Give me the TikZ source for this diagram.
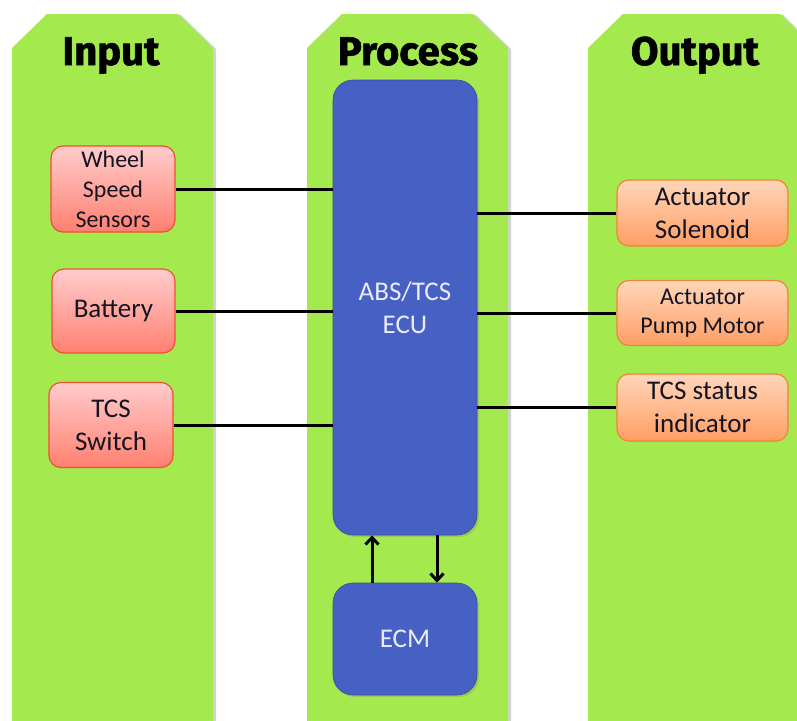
\documentclass[tikz,border=0pt]{standalone}
\usepackage{fontspec}
\setmainfont{Carlito}
\newfontfamily\headfont{Fira Sans}[BoldFeatures={FakeBold=1.5}]
\usetikzlibrary{arrows.meta,shadows}
\definecolor{colgreen}{RGB}{164,234,78}
\definecolor{ecublue}{RGB}{71,96,196}
\definecolor{redtop}{RGB}{255,204,204}
\definecolor{redbot}{RGB}{255,128,112}
\definecolor{redline}{RGB}{240,80,50}
\definecolor{orgtop}{RGB}{255,214,186}
\definecolor{orgbot}{RGB}{255,158,100}
\definecolor{orgline}{RGB}{245,130,50}
\definecolor{txtdark}{RGB}{20,20,35}
\tikzset{
  column/.style={fill=colgreen, drop shadow={shadow xshift=3pt, shadow yshift=-1pt, opacity=0.35}},
  head/.style={font=\headfont\bfseries\fontsize{40}{42}\selectfont, text=black, anchor=base, inner sep=0pt},
  inbox/.style={rectangle, rounded corners=12pt, draw=redline, line width=1.2pt, top color=redtop, bottom color=redbot, text=txtdark, align=center, inner sep=0pt},
  outbox/.style={rectangle, rounded corners=12pt, draw=orgline, line width=1.2pt, top color=orgtop, bottom color=orgbot, text=txtdark, align=center, inner sep=0pt},
  bluebox/.style={rectangle, rounded corners=20pt, fill=ecublue, draw=ecublue!80!black, line width=0.6pt, text=white!92!blue, align=center, inner sep=0pt, drop shadow={shadow xshift=2pt, shadow yshift=-2pt, opacity=0.3}},
  conn/.style={line width=3pt, draw=black},
  arr/.style={line width=3pt, draw=black, -{Straight Barb[length=7pt,width=13pt]}},
}
\begin{document}
\begin{tikzpicture}[x=1pt,y=-1pt]
\useasboundingbox (0,0) rectangle (797,720);
\fill[white] (0,0) rectangle (797,720);
\begin{scope}
\clip (0,0) rectangle (797,720);
% columns
\path[column] (12,740) -- (12,48) -- (47,14) -- (178,14) -- (213,48) -- (213,740) -- cycle;
\path[column] (307,740) -- (307,48) -- (342,14) -- (473,14) -- (508,48) -- (508,740) -- cycle;
\path[column] (588,740) -- (588,48) -- (623,14) -- (780,14) -- (815,48) -- (815,740) -- cycle;
\end{scope}
% headers
\node[head] (hin) at (111,65) {Input};
\node[head] (hpro) at (408,65) {Process};
\node[head] (hout) at (695,65) {Output};
% process boxes
\node[bluebox, minimum width=144pt, minimum height=455pt, font=\fontsize{27}{33}\selectfont] (ecu) at (405,307.5) {ABS/TCS\\ECU};
\node[bluebox, minimum width=144pt, minimum height=112pt, font=\fontsize{27}{33}\selectfont] (ecm) at (405,639) {ECM};
% input boxes
\node[inbox, minimum width=124pt, minimum height=86pt, font=\fontsize{24}{30}\selectfont] (wss) at (113,189) {Wheel\\Speed\\Sensors};
\node[inbox, minimum width=123pt, minimum height=84pt, font=\fontsize{27}{33}\selectfont] (bat) at (113.5,311) {Battery};
\node[inbox, minimum width=124pt, minimum height=85pt, font=\fontsize{27}{33}\selectfont] (tsw) at (111,425) {TCS\\Switch};
% output boxes
\node[outbox, minimum width=171pt, minimum height=66pt, font=\fontsize{27}{33}\selectfont] (sol) at (702.5,213) {Actuator\\Solenoid};
\node[outbox, minimum width=171pt, minimum height=65pt, font=\fontsize{24}{29}\selectfont] (pump) at (702.5,313) {Actuator\\Pump Motor};
\node[outbox, minimum width=171pt, minimum height=67pt, font=\fontsize{27}{33}\selectfont] (stat) at (702.5,407.5) {TCS status\\indicator};
% connectors
\draw[conn] (wss.east) -- (wss.east -| ecu.west);
\draw[conn] (bat.east) -- (bat.east -| ecu.west);
\draw[conn] (tsw.east) -- (tsw.east -| ecu.west);
\draw[conn] (sol.west) -- (sol.west -| ecu.east);
\draw[conn] (pump.west) -- (pump.west -| ecu.east);
\draw[conn] (stat.west) -- (stat.west -| ecu.east);
\draw[arr] ([xshift=-33pt]ecm.north) -- ([xshift=-33pt]ecu.south);
\draw[arr] ([xshift=32pt]ecu.south) -- ([xshift=32pt]ecm.north);
\end{tikzpicture}
\end{document}
